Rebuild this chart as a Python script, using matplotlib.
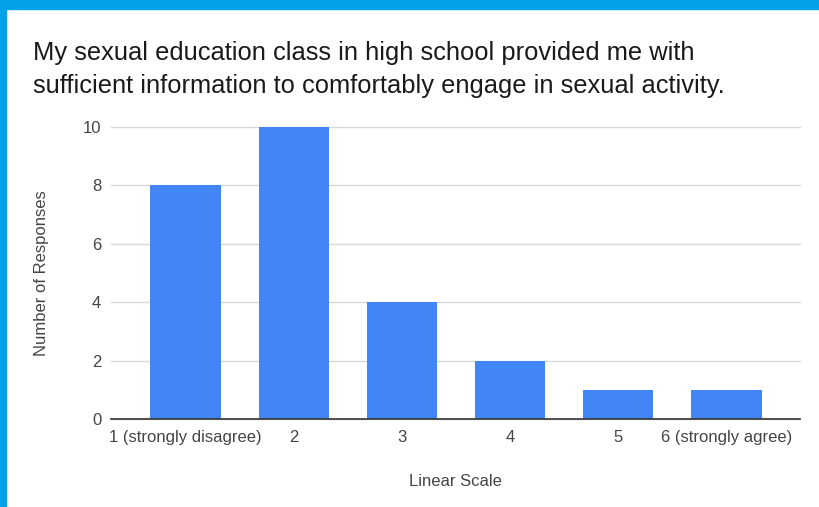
import matplotlib.pyplot as plt
from matplotlib.patches import Rectangle

categories = ['1 (strongly disagree)', '2', '3', '4', '5', '6 (strongly agree)']
responses = [8, 10, 4, 2, 1, 1]
yticks = [0, 2, 4, 6, 8, 10]

plt.rcParams['font.family'] = ['Liberation Sans', 'DejaVu Sans']

fig = plt.figure(figsize=(8.2, 5.07), dpi=100)

# blue frame along the top and left edge
fig.patches.append(Rectangle((0, 1 - 9 / 507), 1, 9 / 507, transform=fig.transFigure,
                             color='#03a1e5', zorder=0))
fig.patches.append(Rectangle((0, 0), 6 / 820, 1, transform=fig.transFigure,
                             color='#03a1e5', zorder=0))

ax = fig.add_axes([111 / 820, 1 - 419 / 507, 689 / 820, 292 / 507])

x = range(len(categories))
ax.bar(x, responses, width=0.65, color='#4285f4', zorder=3)

ax.set_xlim(-0.69, 5.68)
ax.set_ylim(0, 10)
ax.set_yticks(yticks)
ax.set_xticks(list(x))
ax.set_xticklabels(categories)
ax.grid(axis='y', color='#d9d9d9', linewidth=1, zorder=0)
for line in ax.get_ygridlines():
    line.set_clip_on(False)

for s in ['top', 'right', 'left']:
    ax.spines[s].set_visible(False)
ax.spines['bottom'].set_color('#333333')
ax.spines['bottom'].set_linewidth(1.2)
ax.spines['bottom'].set_zorder(4)

ax.tick_params(axis='both', length=0, labelcolor='#444444', labelsize=12)
ax.tick_params(axis='x', pad=8)
ax.tick_params(axis='y', pad=7)

ax.set_ylabel('Number of Responses', fontsize=12, color='#444444', labelpad=24)
ax.set_xlabel('Linear Scale', fontsize=12, color='#444444', labelpad=21)

fig.text(33 / 820, 1 - 41 / 507,
         'My sexual education class in high school provided me with\n'
         'sufficient information to comfortably engage in sexual activity.',
         fontsize=18.4, color='#1a1a1a', va='top', ha='left', linespacing=1.45)

fig.savefig('out.png', dpi=100)
